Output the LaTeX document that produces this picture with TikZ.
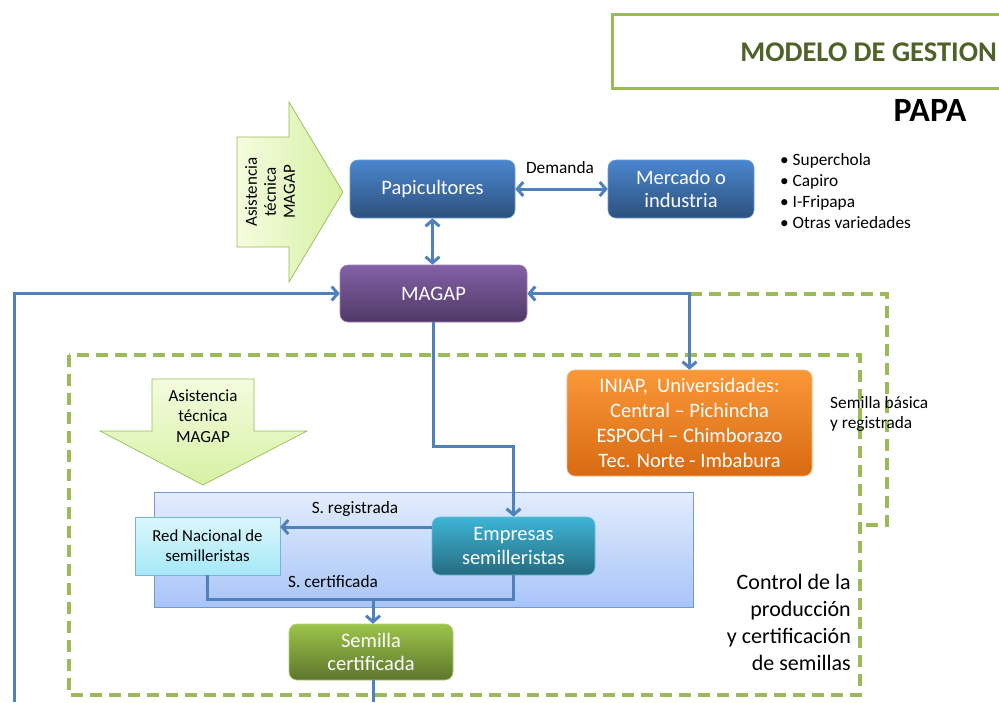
\documentclass[tikz,border=0pt]{standalone}
\usepackage{fontspec}
\setmainfont{Carlito}
\usetikzlibrary{arrows.meta,calc}
\definecolor{lnblue}{HTML}{4F81BD}
\definecolor{dgreen}{HTML}{9BBB59}
\definecolor{tgreen}{HTML}{4F6228}
\definecolor{cpap}{RGB}{74,134,207}
\definecolor{cmag}{RGB}{132,96,168}
\definecolor{cemp}{RGB}{62,180,214}
\definecolor{csem}{RGB}{156,196,74}
\definecolor{iniT}{RGB}{250,152,56}
\definecolor{iniB}{RGB}{216,106,18}
\definecolor{iniD}{RGB}{250,180,120}
\definecolor{redT}{RGB}{220,247,253}
\definecolor{redB}{RGB}{166,232,248}
\definecolor{redD}{RGB}{120,180,215}
\definecolor{arT}{RGB}{227,237,253}
\definecolor{arB}{RGB}{168,196,248}
\definecolor{gaL}{RGB}{244,252,222}
\definecolor{gaR}{RGB}{214,241,164}
\tikzset{
  conn/.style={draw=lnblue, line width=3pt, >={Straight Barb[length=6pt,width=14pt]}},
  dsh/.style={draw=dgreen, line width=3.5pt, dash pattern=on 12pt off 7pt},
  rbox/.style={rounded corners=8pt, text=white, align=center, font=\fontsize{20.5}{23.5}\selectfont, inner sep=2pt},
  bluebox/.style={rbox, top color=#1, bottom color=#1!60!black, draw=#1!80!white, line width=0.6pt},
  lbl/.style={font=\fontsize{17.3}{20}\selectfont, inner sep=1pt},
  garrow/.style={draw=dgreen, line width=0.7pt}
}
\begin{document}
\begin{tikzpicture}[x=1pt,y=-1pt]
\useasboundingbox (0,0) rectangle (999,702);
\fill[white] (0,0) rectangle (999,702);
% title
\begin{scope}
\clip (0,0) rectangle (999,702);
\draw[dgreen, line width=3pt] (612,14) rectangle (1010,88);
\end{scope}
\node[font=\bfseries\fontsize{28.5}{30}\selectfont, text=tgreen, anchor=east, inner sep=0pt] (title) at (997,52) {MODELO DE GESTION};
\node[font=\bfseries\fontsize{34}{36}\selectfont, anchor=center, inner sep=0pt] (papa) at (930,110) {PAPA};

% dashed frames
\draw[dsh] (690,294) -- (887,294) -- (887,525) -- (860,525);
\draw[dsh] (69,355) rectangle (860,695);

% light blue area
\node[draw=lnblue!80!white, line width=0.8pt, top color=arT, bottom color=arB, minimum width=539, minimum height=115, inner sep=0pt] (area) at (423.5,549.5) {};

% green arrows
\shade[left color=gaL, right color=gaR, garrow]
  (237,137) -- (289,137) -- (289,102) -- (343,192) -- (289,282) -- (289,247) -- (237,247) -- cycle;
\node[rotate=90, align=center, font=\fontsize{17}{19}\selectfont, inner sep=0pt] (asis1) at (270,192) {Asistencia\\técnica\\MAGAP};
\shade[top color=gaL, bottom color=gaR, garrow]
  (152,379) -- (254,379) -- (254,431) -- (307,431) -- (203,485) -- (100,431) -- (152,431) -- cycle;
\node[align=center, font=\fontsize{17}{20.5}\selectfont, inner sep=0pt] (asis2) at (203,416) {Asistencia\\técnica\\MAGAP};

% boxes
\node[bluebox=cpap, minimum width=165, minimum height=58] (pap) at (432.5,189) {Papicultores};
\node[bluebox=cpap, minimum width=146, minimum height=58] (mer) at (681,189) {Mercado o\\industria};
\node[bluebox=cmag, minimum width=187, minimum height=57] (mag) at (433.5,293.5) {MAGAP};
\node[rbox, top color=iniT, bottom color=iniB, draw=iniD, line width=0.6pt, minimum width=245, minimum height=106, font=\fontsize{20.5}{25}\selectfont] (ini) at (689.5,423) {INIAP,\ \ Universidades:\\Central -- Pichincha\\ESPOCH -- Chimborazo\\Tec. Norte - Imbabura};
\node[draw=redD, line width=0.6pt, top color=redT, bottom color=redB, minimum width=145, minimum height=58, align=center, font=\fontsize{16.8}{20}\selectfont, inner sep=2pt] (red) at (207.5,546) {Red Nacional de\\semilleristas};
\node[bluebox=cemp, minimum width=163, minimum height=58] (emp) at (513.5,546) {Empresas\\semilleristas};
\node[bluebox=csem, minimum width=164, minimum height=56] (sem) at (371,652) {Semilla\\certificada};

% connectors
\draw[conn,<->] (pap) -- (mer);
\node[lbl] (dem) at (560,168) {Demanda};
\draw[conn,<->] (pap.south) -- (pap.south |- mag.north);
\coordinate (bl) at (14,702);
\draw[conn,->] (bl) |- (mag.west);
\draw[conn,<->] (mag.east) -| (ini.north);
\draw[conn,->] (mag.south) -- ++(0,124) -| (emp.north);
\draw[conn,->] ([yshift=19pt]emp.west) -- ([yshift=19pt]red.east);
\node[lbl] (sreg) at (355,509) {S. registrada};
\coordinate (cj) at (373,599);
\draw[conn] (red.south) |- (cj) -| (emp.south);
\draw[conn,->] (cj) -- (cj |- sem.north);
\node[lbl] (scer) at (333,582) {S. certificada};
\coordinate (bb) at (373,702);
\draw[conn] (sem.south -| cj) -- (bb);

% texts
\node[align=left, anchor=west, font=\fontsize{17.3}{21}\selectfont, inner sep=0pt] (list) at (780,191) {\textbullet\ Superchola\\\textbullet\ Capiro\\\textbullet\ I-Fripapa\\\textbullet\ Otras variedades};
\node[align=left, anchor=west, font=\fontsize{17.3}{20}\selectfont, inner sep=0pt] (sbas) at (830,414) {Semilla básica\\y registrada};
\node[align=right, anchor=east, font=\fontsize{22}{27}\selectfont, inner sep=0pt] (ctrl) at (851,622) {Control de la\\producción\\y certificación\\de semillas};
\end{tikzpicture}
\end{document}
